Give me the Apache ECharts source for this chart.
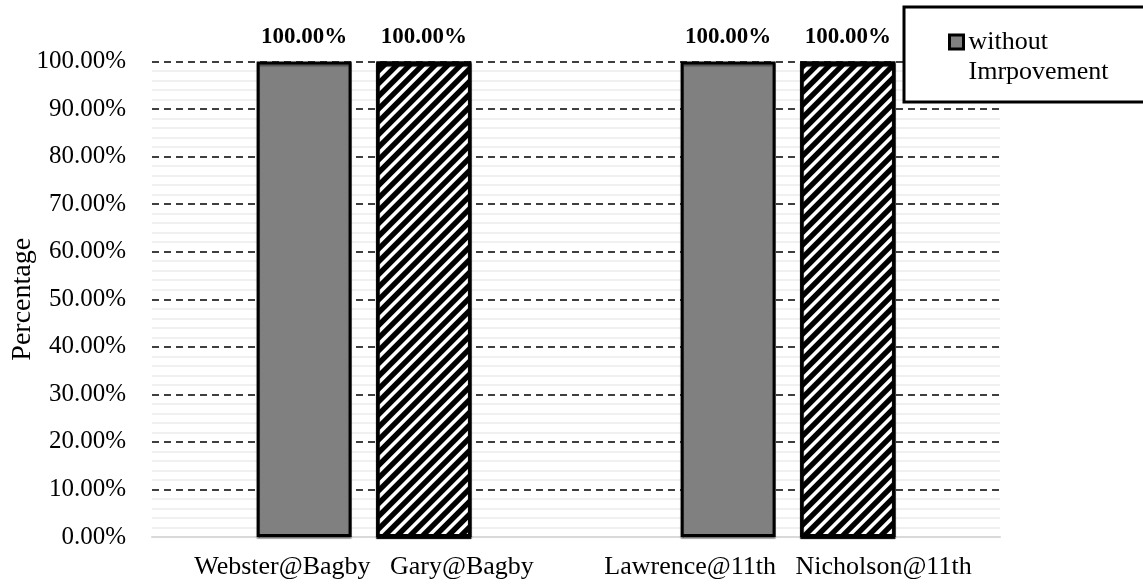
<!DOCTYPE html>
<html>
<head>
<meta charset="utf-8">
<script src="https://cdn.jsdelivr.net/npm/echarts@6/dist/echarts.min.js"></script>
<style>html,body{margin:0;padding:0;background:#fff}#c{width:1143px;height:584px}</style>
</head>
<body>
<div id="c"></div>
<script>
// ---- data ----
const categories = ['Webster@Bagby   Gary@Bagby', 'Lawrence@11th   Nicholson@11th'];
const seriesNames = ['without\nImrpovement', 'with Improvement'];
const withoutValues = [100, 100];
const withValues = [100, 100];
const yMin = 0, yMax = 100, yInterval = 10;
const yTickLabel = v => v.toFixed(2) + '%';
const yAxisTitle = 'Percentage';

const FONT = 'Liberation Serif';
const chart = echarts.init(document.getElementById('c'), null, {renderer: 'canvas'});
const barShadow = {shadowColor: 'rgba(0,0,0,0.35)', shadowOffsetY: 2, shadowBlur: 1};
const labelCfg = {
  show: true, position: 'top', distance: 13,
  formatter: p => p.value.toFixed(2) + '%',
  fontFamily: FONT, fontSize: 23, fontWeight: 'bold', color: '#000'
};
chart.setOption({
  animation: false,
  backgroundColor: '#fff',
  textStyle: {fontFamily: FONT, color: '#000'},
  grid: {left: 152, right: 143, top: 61.5, bottom: 47, containLabel: false, outerBoundsMode: 'none'},
  xAxis: {
    type: 'category', data: categories,
    axisLine: {show: true, lineStyle: {color: '#d9d9d9', width: 2}},
    axisTick: {show: false},
    axisLabel: {interval: 0, hideOverlap: false, fontFamily: FONT, fontSize: 26, color: '#000', margin: 17},
    splitLine: {show: false}
  },
  yAxis: {
    type: 'value', min: yMin, max: yMax, interval: yInterval,
    name: yAxisTitle, nameLocation: 'middle', nameGap: 115, nameMoveOverlap: false,
    nameTextStyle: {fontFamily: FONT, fontSize: 28, color: '#000'},
    axisLine: {show: false}, axisTick: {show: false},
    axisLabel: {formatter: yTickLabel, fontFamily: FONT, fontSize: 25, color: '#000', margin: 26},
    splitLine: {show: true, lineStyle: {color: '#000', width: 1.5, type: [7, 5]}},
    minorTick: {show: false, splitNumber: 5},
    minorSplitLine: {show: true, lineStyle: {color: '#ececec', width: 1.5}}
  },
  legend: {
    data: [seriesNames[0]],
    formatter: name => '\n' + name,
    left: 948, top: -3, orient: 'vertical', padding: 0, z: 20,
    icon: 'rect', itemWidth: 14, itemHeight: 14,
    itemStyle: {borderColor: '#000', borderWidth: 3},
    textStyle: {fontFamily: FONT, fontSize: 26, color: '#000', lineHeight: 30}
  },
  graphic: [{
    type: 'rect', z: 10, silent: true,
    shape: {x: 904, y: 7, width: 300, height: 95},
    style: {fill: '#fff', stroke: '#000', lineWidth: 3}
  }],
  series: [
    {
      name: seriesNames[0], type: 'bar', data: withoutValues,
      barWidth: 95, barGap: '26%',
      itemStyle: Object.assign({color: '#808080', borderColor: '#000', borderWidth: 3}, barShadow),
      label: labelCfg
    },
    {
      name: seriesNames[1], type: 'bar', data: withValues,
      barWidth: 95, barGap: '26%',
      itemStyle: Object.assign({
        color: '#fff', borderColor: '#000', borderWidth: 3,
        decal: {symbol: 'rect', symbolSize: 1, dashArrayX: [1, 0], dashArrayY: [3.2, 4.3], rotation: -Math.PI / 4, color: '#000'}
      }, barShadow),
      label: labelCfg
    }
  ]
});
</script>
</body>
</html>
